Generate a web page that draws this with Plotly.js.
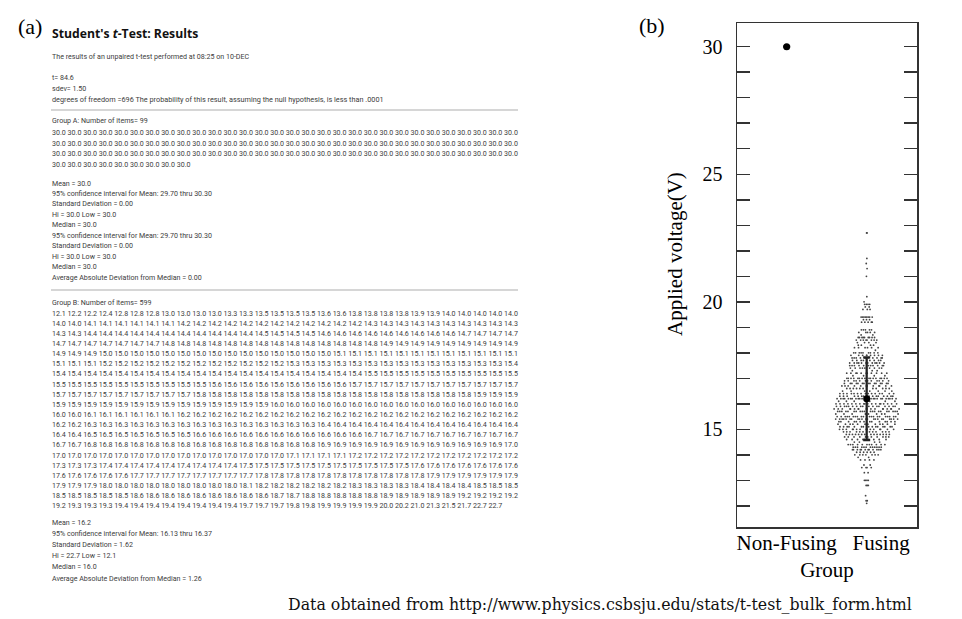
<!DOCTYPE html>
<html>
<head>
<meta charset="utf-8">
<script src="https://cdn.plot.ly/plotly-3.0.1.min.js"></script>
<style>
  html, body { margin: 0; padding: 0; background: #fff; }
  #chart { width: 962px; height: 619px; }
</style>
</head>
<body>
<div id="chart"></div>
<script>
// ---------------- DATA ----------------
const categories = ['Non-Fusing', 'Fusing'];

// Group A (Non-Fusing): 99 items
const groupA = [
  30.0,30.0,30.0,30.0,30.0,30.0,30.0,30.0,30.0,30.0,30.0,30.0,30.0,30.0,30.0,30.0,30.0,30.0,30.0,30.0,30.0,30.0,30.0,30.0,30.0,30.0,30.0,30.0,30.0,30.0,
  30.0,30.0,30.0,30.0,30.0,30.0,30.0,30.0,30.0,30.0,30.0,30.0,30.0,30.0,30.0,30.0,30.0,30.0,30.0,30.0,30.0,30.0,30.0,30.0,30.0,30.0,30.0,30.0,30.0,30.0,
  30.0,30.0,30.0,30.0,30.0,30.0,30.0,30.0,30.0,30.0,30.0,30.0,30.0,30.0,30.0,30.0,30.0,30.0,30.0,30.0,30.0,30.0,30.0,30.0,30.0,30.0,30.0,30.0,30.0,30.0,
  30.0,30.0,30.0,30.0,30.0,30.0,30.0,30.0,30.0
];

// Group B (Fusing): 599 items
const groupB = [
  12.1,12.2,12.2,12.4,12.8,12.8,12.8,13.0,13.0,13.0,13.0,13.3,13.3,13.5,13.5,13.5,13.5,13.6,13.6,13.8,13.8,13.8,13.8,13.9,13.9,14.0,14.0,14.0,14.0,14.0,
  14.0,14.0,14.1,14.1,14.1,14.1,14.1,14.1,14.2,14.2,14.2,14.2,14.2,14.2,14.2,14.2,14.2,14.2,14.2,14.2,14.3,14.3,14.3,14.3,14.3,14.3,14.3,14.3,14.3,14.3,
  14.3,14.3,14.4,14.4,14.4,14.4,14.4,14.4,14.4,14.4,14.4,14.4,14.4,14.5,14.5,14.5,14.5,14.6,14.6,14.6,14.6,14.6,14.6,14.6,14.6,14.6,14.7,14.7,14.7,14.7,
  14.7,14.7,14.7,14.7,14.7,14.7,14.7,14.8,14.8,14.8,14.8,14.8,14.8,14.8,14.8,14.8,14.8,14.8,14.8,14.8,14.8,14.9,14.9,14.9,14.9,14.9,14.9,14.9,14.9,14.9,
  14.9,14.9,14.9,15.0,15.0,15.0,15.0,15.0,15.0,15.0,15.0,15.0,15.0,15.0,15.0,15.0,15.0,15.0,15.1,15.1,15.1,15.1,15.1,15.1,15.1,15.1,15.1,15.1,15.1,15.1,
  15.1,15.1,15.1,15.2,15.2,15.2,15.2,15.2,15.2,15.2,15.2,15.2,15.2,15.2,15.2,15.3,15.3,15.3,15.3,15.3,15.3,15.3,15.3,15.3,15.3,15.3,15.3,15.3,15.3,15.4,
  15.4,15.4,15.4,15.4,15.4,15.4,15.4,15.4,15.4,15.4,15.4,15.4,15.4,15.4,15.4,15.4,15.4,15.4,15.4,15.4,15.5,15.5,15.5,15.5,15.5,15.5,15.5,15.5,15.5,15.5,
  15.5,15.5,15.5,15.5,15.5,15.5,15.5,15.5,15.5,15.5,15.6,15.6,15.6,15.6,15.6,15.6,15.6,15.6,15.6,15.7,15.7,15.7,15.7,15.7,15.7,15.7,15.7,15.7,15.7,15.7,
  15.7,15.7,15.7,15.7,15.7,15.7,15.7,15.7,15.7,15.8,15.8,15.8,15.8,15.8,15.8,15.8,15.8,15.8,15.8,15.8,15.8,15.8,15.8,15.8,15.8,15.8,15.8,15.9,15.9,15.9,
  15.9,15.9,15.9,15.9,15.9,15.9,15.9,15.9,15.9,15.9,15.9,15.9,15.9,15.9,16.0,16.0,16.0,16.0,16.0,16.0,16.0,16.0,16.0,16.0,16.0,16.0,16.0,16.0,16.0,16.0,
  16.0,16.0,16.1,16.1,16.1,16.1,16.1,16.1,16.2,16.2,16.2,16.2,16.2,16.2,16.2,16.2,16.2,16.2,16.2,16.2,16.2,16.2,16.2,16.2,16.2,16.2,16.2,16.2,16.2,16.2,
  16.2,16.2,16.3,16.3,16.3,16.3,16.3,16.3,16.3,16.3,16.3,16.3,16.3,16.3,16.3,16.3,16.3,16.4,16.4,16.4,16.4,16.4,16.4,16.4,16.4,16.4,16.4,16.4,16.4,16.4,
  16.4,16.4,16.5,16.5,16.5,16.5,16.5,16.5,16.5,16.6,16.6,16.6,16.6,16.6,16.6,16.6,16.6,16.6,16.6,16.6,16.7,16.7,16.7,16.7,16.7,16.7,16.7,16.7,16.7,16.7,
  16.7,16.7,16.8,16.8,16.8,16.8,16.8,16.8,16.8,16.8,16.8,16.8,16.8,16.8,16.8,16.8,16.8,16.9,16.9,16.9,16.9,16.9,16.9,16.9,16.9,16.9,16.9,16.9,16.9,17.0,
  17.0,17.0,17.0,17.0,17.0,17.0,17.0,17.0,17.0,17.0,17.0,17.0,17.0,17.0,17.0,17.1,17.1,17.1,17.1,17.2,17.2,17.2,17.2,17.2,17.2,17.2,17.2,17.2,17.2,17.2,
  17.3,17.3,17.3,17.4,17.4,17.4,17.4,17.4,17.4,17.4,17.4,17.4,17.5,17.5,17.5,17.5,17.5,17.5,17.5,17.5,17.5,17.5,17.5,17.6,17.6,17.6,17.6,17.6,17.6,17.6,
  17.6,17.6,17.6,17.6,17.6,17.7,17.7,17.7,17.7,17.7,17.7,17.7,17.7,17.8,17.8,17.8,17.8,17.8,17.8,17.8,17.8,17.8,17.8,17.8,17.9,17.9,17.9,17.9,17.9,17.9,
  17.9,17.9,17.9,18.0,18.0,18.0,18.0,18.0,18.0,18.0,18.0,18.0,18.1,18.2,18.2,18.2,18.2,18.2,18.2,18.3,18.3,18.3,18.3,18.4,18.4,18.4,18.4,18.5,18.5,18.5,
  18.5,18.5,18.5,18.5,18.5,18.6,18.6,18.6,18.6,18.6,18.6,18.6,18.6,18.6,18.7,18.7,18.8,18.8,18.8,18.8,18.8,18.9,18.9,18.9,18.9,18.9,19.2,19.2,19.2,19.2,
  19.2,19.3,19.3,19.3,19.4,19.4,19.4,19.4,19.4,19.4,19.4,19.4,19.7,19.7,19.7,19.8,19.8,19.9,19.9,19.9,19.9,20.0,20.2,21.0,21.3,21.5,21.7,22.7,22.7
];

const groupMeans = [30.0, 16.2];
const groupSD = [0.00, 1.62];
const yTickVals = [15, 20, 25, 30];

const titleText = "Student's <i>t</i>-Test: Results";
const introLine = "The results of an unpaired t-test performed at 08:25 on 10-DEC";
const testLines = [
  "t= 84.6",
  "sdev= 1.50",
  "degrees of freedom =696 The probability of this result, assuming the null hypothesis, is less than .0001"
];
const headerA = "Group A: Number of items= 99";
const statsA = [
  "Mean = 30.0",
  "95% confidence interval for Mean: 29.70 thru 30.30",
  "Standard Deviation = 0.00",
  "Hi = 30.0 Low = 30.0",
  "Median = 30.0",
  "95% confidence interval for Mean: 29.70 thru 30.30",
  "Standard Deviation = 0.00",
  "Hi = 30.0 Low = 30.0",
  "Median = 30.0",
  "Average Absolute Deviation from Median = 0.00"
];
const headerB = "Group B: Number of items= 599";
const statsB = [
  "Mean = 16.2",
  "95% confidence interval for Mean: 16.13 thru 16.37",
  "Standard Deviation = 1.62",
  "Hi = 22.7 Low = 12.1",
  "Median = 16.0",
  "Average Absolute Deviation from Median = 1.26"
];
const footerText = "Data obtained from http://www.physics.csbsju.edu/stats/t-test_bulk_form.html";

// ---------------- LAYOUT HELPERS ----------------
const W = 962, H = 619;
const px = x => x / W;
const py = y => 1 - y / H;

const SANS = 'Roboto, Open Sans, sans-serif';
const SERIF = 'Liberation Serif, Times New Roman, serif';
const SMALL = 7.1;
const PROSE = 7.3;
const TXT = '#3c3c3c';

const annotations = [];
function addText(text, x, y, size, opts) {
  annotations.push(Object.assign({
    text: text, x: px(x), y: py(y), xref: 'paper', yref: 'paper',
    xanchor: 'left', yanchor: 'middle', showarrow: false, borderpad: 0,
    font: { family: SANS, size: size, color: TXT }
  }, opts || {}));
}
function chunk(arr, n) {
  const out = [];
  for (let i = 0; i < arr.length; i += n) out.push(arr.slice(i, i + n));
  return out;
}
const fmt = v => v.toFixed(1);

// Panel (a) text block
const LX = 51;
addText('(a)', 30, 27, 22, { xanchor: 'center', font: { family: SERIF, size: 22, color: '#000' } });
addText('<b>' + titleText + '</b>', LX, 33, 12.2, { font: { family: 'Open Sans, sans-serif', size: 12.2, color: '#111' } });
addText(introLine, LX, 57, SMALL);
testLines.forEach((t, i) => addText(t, LX, 77 + i * 11, i === 2 ? PROSE : SMALL));
addText(headerA, LX, 120, SMALL);
chunk(groupA, 30).forEach((row, i) => addText(row.map(fmt).join(' '), LX, 132.5 + i * 10.6, SMALL));
statsA.forEach((t, i) => addText(t, LX, 183 + i * 10.45, SMALL));
addText(headerB, LX, 302, SMALL);
chunk(groupB, 30).forEach((row, i) => addText(row.map(fmt).join(' '), LX, 313 + i * 10.15, SMALL));
statsB.forEach((t, i) => addText(t, LX, 522 + i * 11.2, SMALL));

// Panel (b) labels
addText('(b)', 652, 26, 22, { xanchor: 'center', font: { family: SERIF, size: 22, color: '#000' } });
addText('Applied voltage(V)', 675, 254, 21, { xanchor: 'center', textangle: -90, font: { family: SERIF, size: 21, color: '#000' } });

// Footer
addText(footerText, 600, 604, 15.8, { xanchor: 'center', font: { family: 'DejaVu Serif, serif', size: 15.8, color: '#111' } });

const shapes = [110, 290].map(y => ({
  type: 'line', xref: 'paper', yref: 'paper',
  x0: px(LX), x1: px(518), y0: py(y), y1: py(y),
  line: { color: '#c9c9c9', width: 1.5 }
}));

// ---------------- SWARM LAYOUT (deterministic quasirandom, density-scaled) ----------------
const xPos = [0, 1];
function vanDerCorput(n) {
  let v = 0, denom = 1;
  while (n > 0) { denom *= 2; v += (n % 2) / denom; n = Math.floor(n / 2); }
  return v;
}
function density(vals, y, bw) {
  let s = 0;
  for (const v of vals) { const z = (y - v) / bw; s += Math.exp(-0.5 * z * z); }
  return s;
}
const BW = 0.4, HALF = 0.41;
const densB = groupB.map(v => density(groupB, v, BW));
const maxDensB = Math.max(...densB);
const swarmX = groupB.map((v, i) => xPos[1] + (vanDerCorput(i + 1) - 0.5) * 2 * HALF * densB[i] / maxDensB);

// ---------------- TRACES ----------------
const swarmB = {
  type: 'scatter', mode: 'markers',
  x: swarmX, y: groupB,
  marker: { color: '#444', size: 1.8 },
  showlegend: false, hoverinfo: 'y'
};

const pointsA = {
  type: 'scatter', mode: 'markers',
  x: groupA.map(() => xPos[0]), y: groupA,
  marker: { color: '#000', size: 2 },
  showlegend: false, hoverinfo: 'y'
};

const meanSD = {
  type: 'scatter', mode: 'markers',
  x: xPos, y: groupMeans,
  marker: { color: '#000', size: 7 },
  error_y: { type: 'data', array: groupSD, visible: true, color: '#222', thickness: 2.3, width: 3.5 },
  showlegend: false
};

// ---------------- LAYOUT ----------------
const layout = {
  width: W, height: H,
  margin: { l: 0, r: 0, t: 0, b: 0, pad: 0 },
  paper_bgcolor: '#fff', plot_bgcolor: '#fff',
  showlegend: false,
  xaxis: {
    domain: [px(737), px(917)],
    range: [-0.621, 1.629],
    tickmode: 'array', tickvals: [0, 1.18], ticktext: categories,
    ticks: '', showgrid: false, zeroline: false,
    showline: true, mirror: true, linecolor: '#333', linewidth: 1.5,
    ticklabelstandoff: -4,
    tickfont: { family: SERIF, size: 21, color: '#000' },
    title: { text: 'Group', font: { family: SERIF, size: 21, color: '#000' }, standoff: 8 }
  },
  yaxis: {
    domain: [py(527), py(23)],
    range: [11.17, 30.93],
    tickmode: 'array', tickvals: yTickVals,
    ticks: 'inside', ticklen: 13, tickwidth: 1.5, tickcolor: '#333',
    minor: { dtick: 1, tick0: 0, ticks: 'inside', ticklen: 13, tickwidth: 1.5, tickcolor: '#333', showgrid: false },
    showgrid: false, zeroline: false,
    showline: true, mirror: 'ticks', linecolor: '#333', linewidth: 1.5,
    ticklabelstandoff: 9,
    tickfont: { family: SERIF, size: 20, color: '#000' }
  },
  annotations: annotations,
  shapes: shapes
};

Plotly.newPlot('chart', [swarmB, pointsA, meanSD], layout, { displayModeBar: false, staticPlot: true });
</script>
</body>
</html>
